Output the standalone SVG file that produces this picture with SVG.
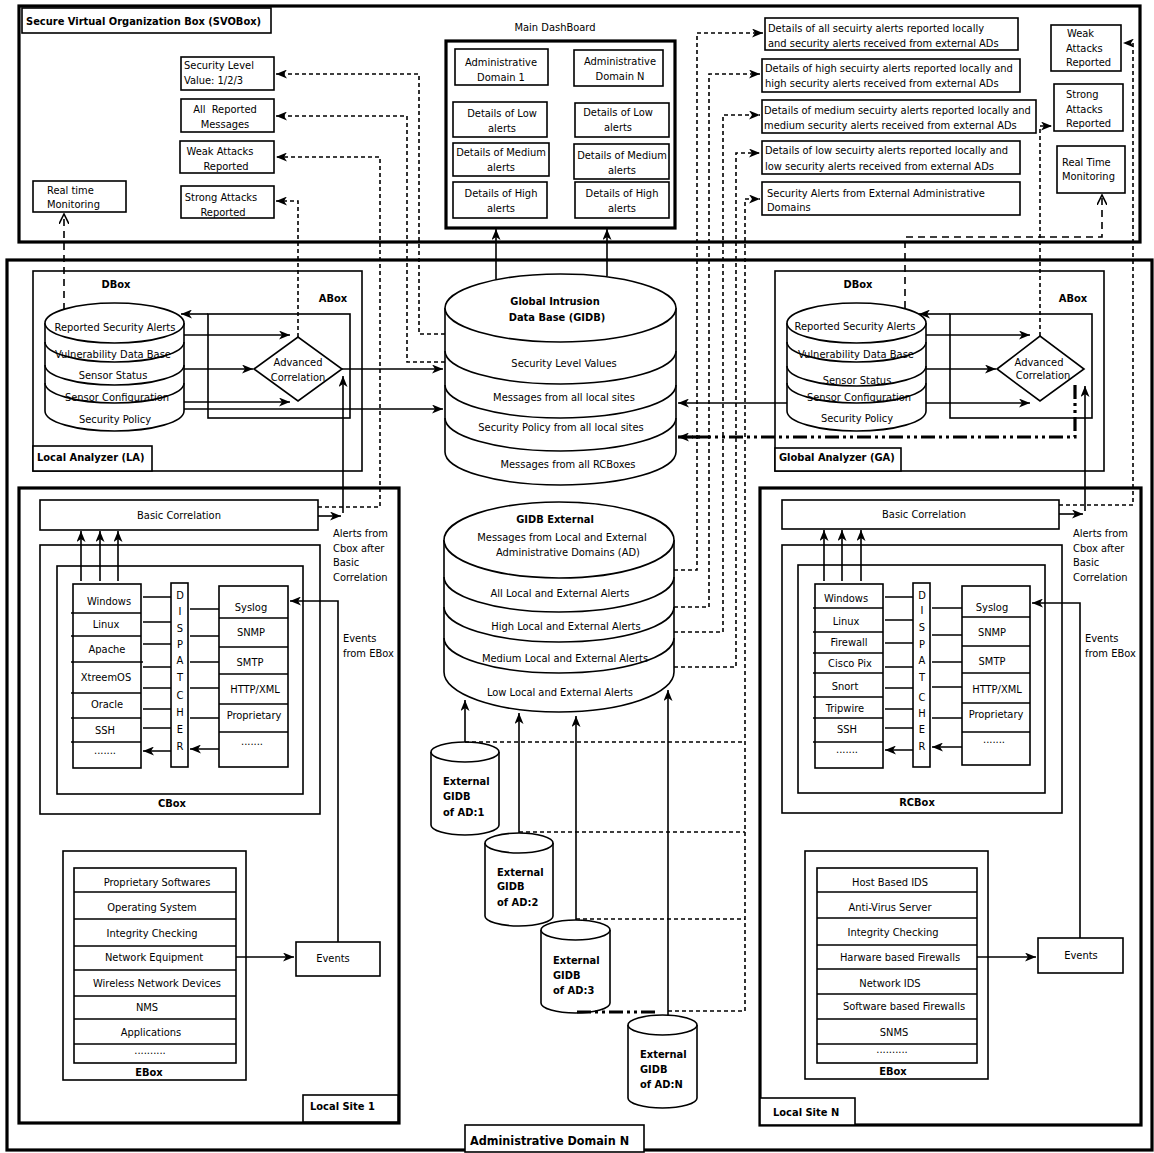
<svg xmlns="http://www.w3.org/2000/svg" width="1154" height="1153" viewBox="0 0 1154 1153">
<defs>
<style>
text{font-family:'DejaVu Sans Condensed','DejaVu Sans',sans-serif;font-stretch:condensed;font-size:11px;fill:#000}
.c{text-anchor:middle}
.b{font-weight:bold}
.bx{fill:#fff;stroke:#000;stroke-width:1.6}
.nb{fill:none;stroke:#000;stroke-width:1.6}
.tk{fill:none;stroke:#000;stroke-width:3.2}
.ln{fill:none;stroke:#000;stroke-width:1.6}
.ar{marker-end:url(#ah)}
.ds{fill:none;stroke:#000;stroke-width:1.6;stroke-dasharray:4 3}
.ld{fill:none;stroke:#000;stroke-width:1.6;stroke-dasharray:7 5}
.dd{fill:none;stroke:#000;stroke-width:3.2;stroke-dasharray:14 4 3 4 3 4}
.op{marker-end:url(#oh)}
</style>
<marker id="ah" viewBox="0 0 11 9" refX="11" refY="4.5" markerWidth="11" markerHeight="9" markerUnits="userSpaceOnUse" orient="auto"><path d="M0,0 L11,4.5 L0,9 L3,4.5 Z" fill="#000"/></marker>
<marker id="oh" viewBox="0 0 11 10" refX="10" refY="5" markerWidth="11" markerHeight="10" markerUnits="userSpaceOnUse" orient="auto"><path d="M0,0 L10,5 L0,10" fill="none" stroke="#000" stroke-width="1.6"/></marker>
</defs>
<rect width="1154" height="1153" fill="#fff"/>

<!-- SVOBox container -->
<g id="svobox">
<rect class="tk" x="19" y="6" width="1121" height="236"/>
<rect class="bx" x="22" y="8" width="249" height="25"/>
<text class="b" x="26" y="25">Secure Virtual Organization Box (SVOBox)</text>
</g>
<g id="sec-level"><rect class="bx" x="181" y="57" width="93" height="33"/><text x="184" y="69">Security Level</text><text x="184" y="84">Value: 1/2/3</text></g>
<g id="all-reported"><rect class="bx" x="181" y="99" width="93" height="33"/><text class="c" x="225" y="113">All&#160; Reported</text><text class="c" x="225" y="128">Messages</text></g>
<g id="weak-left"><rect class="bx" x="180" y="141" width="94" height="32"/><text class="c" x="220" y="155">Weak Attacks</text><text class="c" x="226" y="170">Reported</text></g>
<g id="strong-left"><rect class="bx" x="181" y="186" width="93" height="32"/><text class="c" x="221" y="201">Strong Attacks</text><text class="c" x="223" y="216">Reported</text></g>
<g id="rtm-left"><rect class="bx" x="33" y="181" width="93" height="31"/><text x="47" y="194">Real time</text><text x="47" y="208">Monitoring</text></g>

<g id="dashboard">
<text class="c" x="555" y="31">Main DashBoard</text>
<rect class="tk" x="446" y="41" width="229" height="187" fill="#fff"/>
<rect class="bx" x="455" y="49" width="93" height="36"/><text class="c" x="501" y="66">Administrative</text><text class="c" x="501" y="81">Domain 1</text>
<rect class="bx" x="574" y="50" width="89" height="36"/><text class="c" x="620" y="65">Administrative</text><text class="c" x="620" y="80">Domain N</text>
<rect class="bx" x="453" y="102" width="94" height="35"/><text class="c" x="502" y="117">Details of Low</text><text class="c" x="502" y="132">alerts</text>
<rect class="bx" x="575" y="103" width="94" height="34"/><text class="c" x="618" y="116">Details of Low</text><text class="c" x="618" y="131">alerts</text>
<rect class="bx" x="453" y="143" width="96" height="33"/><text class="c" x="501" y="156">Details of Medium</text><text class="c" x="501" y="171">alerts</text>
<rect class="bx" x="574" y="144" width="95" height="35"/><text class="c" x="622" y="159">Details of Medium</text><text class="c" x="622" y="174">alerts</text>
<rect class="bx" x="453" y="182" width="94" height="36"/><text class="c" x="501" y="197">Details of High</text><text class="c" x="501" y="212">alerts</text>
<rect class="bx" x="575" y="182" width="94" height="36"/><text class="c" x="622" y="197">Details of High</text><text class="c" x="622" y="212">alerts</text>
</g>

<g id="det-all"><rect class="bx" x="765" y="18" width="253" height="32"/><text x="768" y="32">Details of all secuirty alerts reported locally</text><text x="768" y="47">and security alerts received from external ADs</text></g>
<g id="det-high"><rect class="bx" x="762" y="59" width="258" height="33"/><text x="765" y="72">Details of high secuirty alerts reported locally and</text><text x="765" y="87">high security alerts received from external ADs</text></g>
<g id="det-medium"><rect class="bx" x="762" y="100" width="274" height="33"/><text x="764" y="114">Details of medium secuirty alerts reported locally and</text><text x="764" y="129">medium security alerts received from external ADs</text></g>
<g id="det-low"><rect class="bx" x="762" y="141" width="258" height="33"/><text x="765" y="154">Details of low secuirty alerts reported locally and</text><text x="765" y="170">low security alerts received from external ADs</text></g>
<g id="det-ext"><rect class="bx" x="762" y="182" width="258" height="33"/><text x="767" y="197">Security Alerts from External Administrative</text><text x="767" y="211">Domains</text></g>
<g id="weak-right"><rect class="bx" x="1051" y="25" width="70" height="46"/><text x="1067" y="37">Weak</text><text x="1066" y="52">Attacks</text><text x="1066" y="66">Reported</text></g>
<g id="strong-right"><rect class="bx" x="1054" y="84" width="69" height="47"/><text x="1066" y="98">Strong</text><text x="1066" y="113">Attacks</text><text x="1066" y="127">Reported</text></g>
<g id="rtm-right"><rect class="bx" x="1057" y="146" width="68" height="47"/><text x="1062" y="166">Real Time</text><text x="1062" y="180">Monitoring</text></g>

<!-- Administrative Domain N -->
<g id="admin-domain">
<rect class="tk" x="7" y="260" width="1145" height="890"/>
<rect class="bx" x="465" y="1125" width="179" height="27"/>
<text class="b" x="470" y="1145" style="font-size:12.5px">Administrative Domain N</text>
</g>

<!-- Local Analyzer -->
<g id="la">
<rect class="nb" x="33" y="271" width="329" height="200"/>
<rect class="bx" x="33" y="446" width="119" height="25"/>
<text class="b" x="37" y="461">Local Analyzer (LA)</text>
<text class="b c" x="116" y="288">DBox</text>
<text class="b c" x="333" y="302">ABox</text>
<rect class="nb" x="208" y="314" width="142" height="104"/>
</g>
<g id="la-dbox">
<path class="bx" d="M45,323 V411 A69.5,20 0 0 0 184,411 V323"/>
<ellipse class="bx" cx="114.5" cy="323" rx="69.5" ry="20"/>
<path class="nb" d="M45,342 A69.5,20 0 0 0 184,342 M45,365 A69.5,20 0 0 0 184,365 M45,383 A69.5,20 0 0 0 184,383"/>
<text class="c" x="115" y="331">Reported Security Alerts</text>
<text class="c" x="113" y="358">Vulnerability Data Base</text>
<text class="c" x="113" y="379">Sensor Status</text>
<text class="c" x="117" y="401">Sensor Configuration</text>
<text class="c" x="115" y="423">Security Policy</text>
</g>
<g id="la-corr"><polygon class="bx" points="254,369 298,337 342,369 298,401"/><text class="c" x="298" y="366">Advanced</text><text class="c" x="298" y="381">Correlation</text></g>

<!-- Global Analyzer -->
<g id="ga">
<rect class="nb" x="775" y="271" width="329" height="200"/>
<rect class="bx" x="775" y="448" width="126" height="23"/>
<text class="b" x="779" y="461">Global Analyzer (GA)</text>
<text class="b c" x="858" y="288">DBox</text>
<text class="b c" x="1073" y="302">ABox</text>
<rect class="nb" x="950" y="314" width="142" height="104"/>
</g>
<g id="ga-dbox">
<path class="bx" d="M787,323 V411 A69.5,20 0 0 0 926,411 V323"/>
<ellipse class="bx" cx="856.5" cy="323" rx="69.5" ry="20"/>
<path class="nb" d="M787,342 A69.5,20 0 0 0 926,342 M787,366 A69.5,20 0 0 0 926,366 M787,383 A69.5,20 0 0 0 926,383"/>
<text class="c" x="855" y="330">Reported Security Alerts</text>
<text class="c" x="856" y="358">Vulnerability Data Base</text>
<text class="c" x="857" y="384">Sensor Status</text>
<text class="c" x="859" y="401">Sensor Configuration</text>
<text class="c" x="857" y="422">Security Policy</text>
</g>
<g id="ga-corr"><polygon class="bx" points="997,369 1040,336 1084,369 1040,401"/><text class="c" x="1039" y="366">Advanced</text><text class="c" x="1043" y="379">Correlation</text></g>

<!-- GIDB -->
<g id="gidb">
<path class="bx" d="M445,308 V452 A115.5,33 0 0 0 676,452 V308"/>
<ellipse class="bx" cx="560.5" cy="308" rx="115.5" ry="34"/>
<path class="nb" d="M445,351 A115.5,33 0 0 0 676,351 M445,385 A115.5,33 0 0 0 676,385 M445,418 A115.5,33 0 0 0 676,418"/>
<text class="b c" x="555" y="305">Global Intrusion</text>
<text class="b c" x="557" y="321">Data Base (GIDB)</text>
<text class="c" x="564" y="367">Security Level Values</text>
<text class="c" x="564" y="401">Messages from all local sites</text>
<text class="c" x="561" y="431">Security Policy from all local sites</text>
<text class="c" x="568" y="468">Messages from all RCBoxes</text>
</g>

<!-- GIDB External -->
<g id="gidb-ext">
<path class="bx" d="M444,540 V672 A115,40 0 0 0 674,672 V540"/>
<ellipse class="bx" cx="559" cy="540" rx="115" ry="38"/>
<path class="nb" d="M444,577 A115,35 0 0 0 674,577 M444,607 A115,35 0 0 0 674,607 M444,638 A115,35 0 0 0 674,638"/>
<text class="b c" x="555" y="523">GIDB External</text>
<text class="c" x="562" y="541">Messages from Local and External</text>
<text class="c" x="568" y="556">Administrative Domains (AD)</text>
<text class="c" x="560" y="597">All Local and External Alerts</text>
<text class="c" x="566" y="630">High Local and External Alerts</text>
<text class="c" x="565" y="662">Medium Local and External Alerts</text>
<text class="c" x="560" y="696">Low Local and External Alerts</text>
</g>

<g id="ext-ad1"><path class="bx" d="M431,752 V825 A34,10 0 0 0 499,825 V752"/><ellipse class="bx" cx="465" cy="752" rx="34" ry="10"/><text class="b" x="443" y="785">External</text><text class="b" x="443" y="800">GIDB</text><text class="b" x="443" y="816">of AD:1</text></g>
<g id="ext-ad2"><path class="bx" d="M485,843 V916 A34,10 0 0 0 553,916 V843"/><ellipse class="bx" cx="519" cy="843" rx="34" ry="10"/><text class="b" x="497" y="876">External</text><text class="b" x="497" y="890">GIDB</text><text class="b" x="497" y="906">of AD:2</text></g>
<g id="ext-ad3"><path class="bx" d="M541,930 V1003 A34.5,10 0 0 0 610,1003 V930"/><ellipse class="bx" cx="575.5" cy="930" rx="34.5" ry="10"/><text class="b" x="553" y="964">External</text><text class="b" x="553" y="979">GIDB</text><text class="b" x="553" y="994">of AD:3</text></g>
<g id="ext-adn"><path class="bx" d="M628,1025 V1098 A34.5,10 0 0 0 697,1098 V1025"/><ellipse class="bx" cx="662.5" cy="1025" rx="34.5" ry="10"/><text class="b" x="640" y="1058">External</text><text class="b" x="640" y="1073">GIDB</text><text class="b" x="640" y="1088">of AD:N</text></g>

<!-- Local Site 1 -->
<g id="site1">
<rect class="tk" x="19" y="488" width="380" height="635"/>
<rect class="bx" x="303" y="1095" width="95" height="27"/>
<text class="b" x="310" y="1110">Local Site 1</text>
<text x="333" y="537">Alerts from</text><text x="333" y="552">Cbox after</text><text x="333" y="566">Basic</text><text x="333" y="581">Correlation</text>
<text x="343" y="642">Events</text><text x="343" y="657">from EBox</text>
</g>
<g id="bc1"><rect class="bx" x="40" y="500" width="278" height="30"/><text class="c" x="179" y="519">Basic Correlation</text></g>
<g id="cbox">
<rect class="nb" x="40" y="545" width="280" height="269"/>
<rect class="nb" x="57" y="566" width="246" height="228"/>
<text class="b c" x="172" y="807">CBox</text>
<rect class="bx" x="73" y="584" width="68" height="184"/>
<path class="nb" d="M71,613 H141 M71,636 H141 M71,662 H143 M71,693 H141 M71,718 H141 M71,742 H141"/>
<text class="c" x="109" y="605">Windows</text><text class="c" x="106" y="628">Linux</text><text class="c" x="107" y="653">Apache</text><text class="c" x="106" y="681">XtreemOS</text><text class="c" x="107" y="708">Oracle</text><text class="c" x="105" y="734">SSH</text><text class="c" x="105" y="754">.......</text>
<rect class="bx" x="171" y="583" width="17" height="184"/>
<text class="c" x="180" y="599">D</text><text class="c" x="180" y="615">I</text><text class="c" x="180" y="632">S</text><text class="c" x="180" y="648">P</text><text class="c" x="180" y="664">A</text><text class="c" x="180" y="681">T</text><text class="c" x="180" y="699">C</text><text class="c" x="180" y="716">H</text><text class="c" x="180" y="733">E</text><text class="c" x="180" y="750">R</text>
<rect class="bx" x="219" y="586" width="69" height="181"/>
<path class="nb" d="M219,618 H288 M219,647 H288 M219,674 H288 M219,704 H288 M219,732 H288"/>
<text class="c" x="251" y="611">Syslog</text><text class="c" x="251" y="636">SNMP</text><text class="c" x="250" y="666">SMTP</text><text class="c" x="255" y="693">HTTP/XML</text><text class="c" x="254" y="719">Proprietary</text><text class="c" x="252" y="745">.......</text>
</g>
<g id="ebox1">
<rect class="nb" x="63" y="851" width="183" height="229"/>
<rect class="bx" x="74" y="868" width="162" height="195"/>
<path class="nb" d="M74,892 H236 M74,919 H236 M74,946 H236 M74,970 H236 M74,996 H236 M74,1019 H236 M74,1044 H236"/>
<text class="c" x="157" y="886">Proprietary Softwares</text><text class="c" x="152" y="911">Operating System</text><text class="c" x="152" y="937">Integrity Checking</text><text class="c" x="154" y="961">Network Equipment</text><text class="c" x="157" y="987">Wireless Network Devices</text><text class="c" x="147" y="1011">NMS</text><text class="c" x="151" y="1036">Applications</text><text class="c" x="150" y="1054">..........</text>
<text class="b c" x="149" y="1076">EBox</text>
</g>
<g id="events1"><rect class="bx" x="296" y="942" width="84" height="34"/><text class="c" x="333" y="962">Events</text></g>

<!-- Local Site N -->
<g id="siteN">
<rect class="tk" x="760" y="488" width="381" height="637"/>
<rect class="bx" x="760" y="1098" width="95" height="27"/>
<text class="b" x="773" y="1116">Local Site N</text>
<text x="1073" y="537">Alerts from</text><text x="1073" y="552">Cbox after</text><text x="1073" y="566">Basic</text><text x="1073" y="581">Correlation</text>
<text x="1085" y="642">Events</text><text x="1085" y="657">from EBox</text>
</g>
<g id="bcN"><rect class="bx" x="782" y="500" width="277" height="29"/><text class="c" x="924" y="518">Basic Correlation</text></g>
<g id="rcbox">
<rect class="nb" x="782" y="545" width="280" height="268"/>
<rect class="nb" x="798" y="565" width="247" height="228"/>
<text class="b c" x="917" y="806">RCBox</text>
<rect class="bx" x="815" y="584" width="68" height="184"/>
<path class="nb" d="M813,608 H883 M813,632 H883 M813,653 H883 M813,673 H883 M813,697 H883 M813,718 H883 M813,742 H883"/>
<text class="c" x="846" y="602">Windows</text><text class="c" x="846" y="625">Linux</text><text class="c" x="849" y="646">Firewall</text><text class="c" x="850" y="667">Cisco Pix</text><text class="c" x="845" y="690">Snort</text><text class="c" x="845" y="712">Tripwire</text><text class="c" x="847" y="733">SSH</text><text class="c" x="847" y="753">.......</text>
<rect class="bx" x="913" y="583" width="17" height="184"/>
<text class="c" x="922" y="599">D</text><text class="c" x="922" y="614">I</text><text class="c" x="922" y="631">S</text><text class="c" x="922" y="648">P</text><text class="c" x="922" y="664">A</text><text class="c" x="922" y="681">T</text><text class="c" x="922" y="701">C</text><text class="c" x="922" y="717">H</text><text class="c" x="922" y="733">E</text><text class="c" x="922" y="750">R</text>
<rect class="bx" x="962" y="586" width="68" height="179"/>
<path class="nb" d="M962,617 H1030 M962,646 H1030 M962,673 H1030 M962,703 H1030 M962,732 H1030"/>
<text class="c" x="992" y="611">Syslog</text><text class="c" x="992" y="636">SNMP</text><text class="c" x="992" y="665">SMTP</text><text class="c" x="997" y="693">HTTP/XML</text><text class="c" x="996" y="718">Proprietary</text><text class="c" x="994" y="743">.......</text>
</g>
<g id="eboxN">
<rect class="nb" x="805" y="851" width="183" height="228"/>
<rect class="bx" x="817" y="868" width="160" height="195"/>
<path class="nb" d="M817,892 H977 M817,918 H977 M817,945 H977 M817,969 H977 M817,994 H977 M817,1019 H977 M817,1044 H977"/>
<text class="c" x="890" y="886">Host Based IDS</text><text class="c" x="890" y="911">Anti-Virus Server</text><text class="c" x="893" y="936">Integrity Checking</text><text class="c" x="900" y="961">Harware based Firewalls</text><text class="c" x="890" y="987">Network IDS</text><text class="c" x="904" y="1010">Software based Firewalls</text><text class="c" x="894" y="1036">SNMS</text><text class="c" x="892" y="1053">..........</text>
<text class="b c" x="893" y="1075">EBox</text>
</g>
<g id="eventsN"><rect class="bx" x="1038" y="938" width="85" height="35"/><text class="c" x="1081" y="959">Events</text></g>

<!-- Connectors -->
<g id="connectors">
<path class="ds ar" d="M445,334 H419 V74 H276"/>
<path class="ds ar" d="M445,362 H407 V116 H276"/>
<path class="ds ar" d="M318,507 H380 V157 H276"/>
<path class="ds ar" d="M298,337 V201 H276"/>
<path class="ld op" d="M64,310 V214"/>
<path class="ln ar" d="M496,279 V229"/>
<path class="ln ar" d="M607,276 V229"/>
<path class="ds ar" d="M674,570 H697 V33 H763"/>
<path class="ds ar" d="M674,607 H709 V74 H760"/>
<path class="ds ar" d="M674,632 H723 V115 H760"/>
<path class="ds ar" d="M674,667 H736 V153 H760"/>
<path class="ds ar" d="M745,1011 V199 H760"/>
<path class="ds" d="M465,742 H745 M519,832 H745 M576,919 H745 M668,1011 H745"/>
<path class="dd" d="M577,1012 H655"/>
<path class="ds ar" d="M1040,336 V126 H1052"/>
<path class="ds ar" d="M1059,505 H1133 V43 H1123"/>
<path class="ld op" d="M905,308 V237 H1102 V195"/>
<path class="ln ar" d="M184,335 H290"/>
<path class="ln ar" d="M184,369 H253"/>
<path class="ln ar" d="M184,402 H290"/>
<path class="ln ar" d="M184,409 H443"/>
<path class="ln ar" d="M342,369 H443"/>
<path class="ln ar" d="M208,314 H181"/>
<path class="ln ar" d="M318,516 H341"/>
<path class="ln ar" d="M343,513 V376"/>
<path class="ln ar" d="M926,335 H1030"/>
<path class="ln ar" d="M926,369 H996"/>
<path class="ln ar" d="M926,403 H1030"/>
<path class="ln ar" d="M950,314 H919"/>
<path class="ln ar" d="M787,403 H678"/>
<path class="dd" d="M1075,385 V437 H692"/>
<path class="ln ar" d="M700,437 H678" style="stroke-width:3.2"/>
<path class="ln ar" d="M1059,514 H1083"/>
<path class="ln ar" d="M1085,511 V386"/>
<path class="ln ar" d="M465,742 V700"/>
<path class="ln ar" d="M519,833 V713"/>
<path class="ln ar" d="M576,920 V716"/>
<path class="ln ar" d="M668,1015 V690"/>
<path class="ln ar" d="M81,581 V531"/>
<path class="ln ar" d="M100,581 V531"/>
<path class="ln ar" d="M118,581 V531"/>
<path class="ln ar" d="M171,597 H143 M171,622 H143 M171,644 H143 M171,667 H143 M171,688 H143 M171,709 H143 M171,728 H143 M171,751 H143"/>
<path class="ln ar" d="M219,609 H190 M219,636 H190 M219,662 H190 M219,688 H190 M219,718 H190 M219,749 H190"/>
<path class="ln ar" d="M338,942 V601 H290"/>
<path class="ln ar" d="M236,957 H294"/>
<path class="ln ar" d="M824,581 V530"/>
<path class="ln ar" d="M842,581 V530"/>
<path class="ln ar" d="M861,581 V530"/>
<path class="ln ar" d="M913,597 H885 M913,620 H885 M913,643 H885 M913,667 H885 M913,688 H885 M913,709 H885 M913,728 H885 M913,750 H885"/>
<path class="ln ar" d="M962,608 H932 M962,635 H932 M962,662 H932 M962,687 H932 M962,718 H932 M962,747 H932"/>
<path class="ln ar" d="M1080,938 V603 H1032"/>
<path class="ln ar" d="M977,957 H1036"/>
</g>
</svg>
